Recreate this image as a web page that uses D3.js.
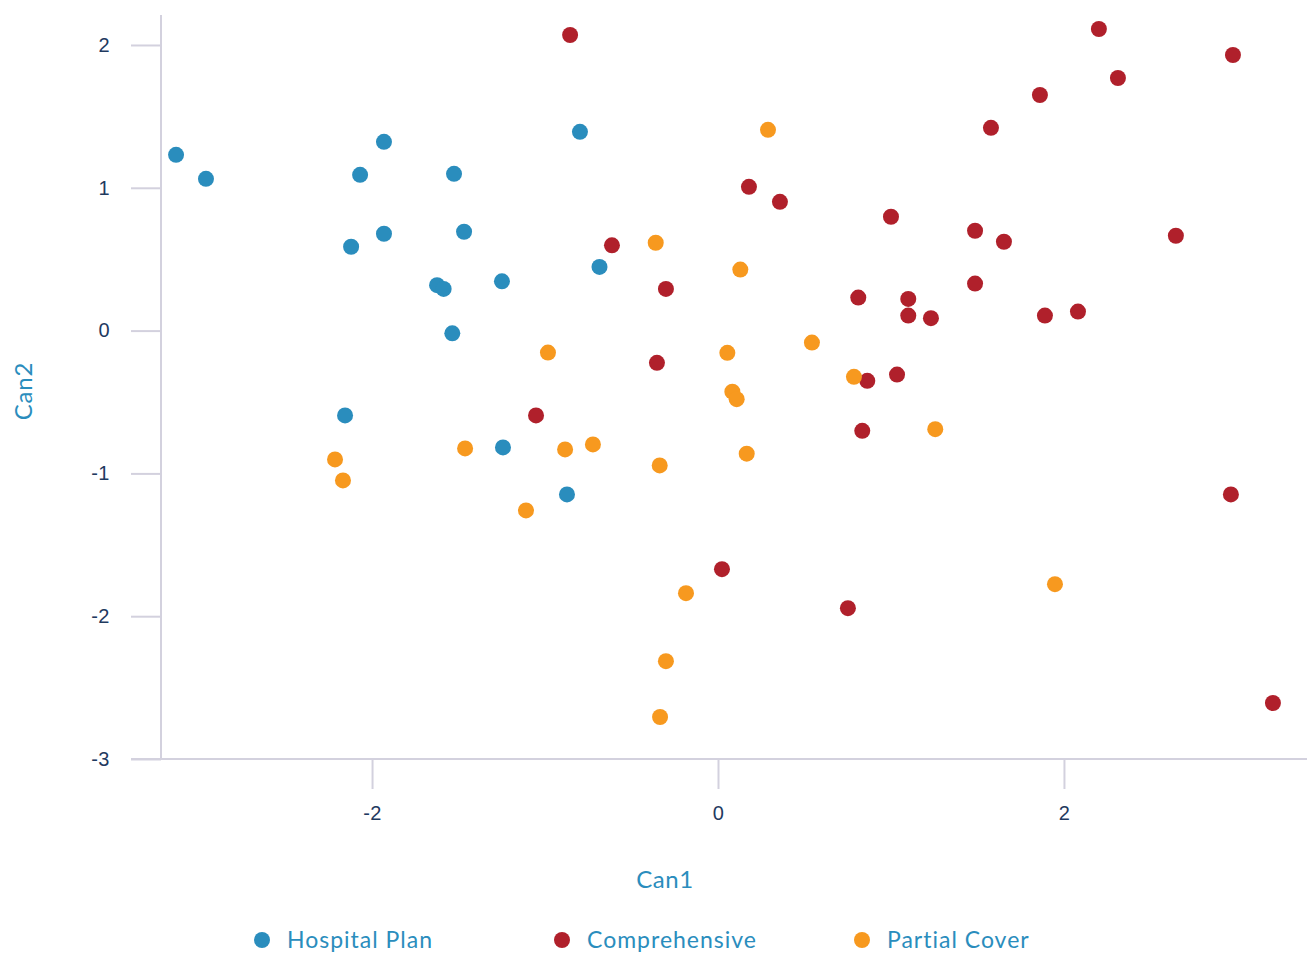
<!DOCTYPE html>
<html>
<head>
<meta charset="utf-8">
<script src="https://cdn.jsdelivr.net/npm/d3@7"></script>
<style>
  html, body { margin: 0; padding: 0; background: #ffffff; }
  svg { display: block; font-family: Lato, "Open Sans", sans-serif; }
</style>
</head>
<body>
<svg id="chart" width="1309" height="953"></svg>
<script>
// Canonical scores per group: [Can1, Can2]
const hospitalPlan = [
  [-3.133, 1.231], [-2.960, 1.063], [-1.931, 1.322], [-2.069, 1.091],
  [-1.526, 1.098], [-2.121, 0.587], [-1.931, 0.678], [-1.468, 0.692],
  [-1.624, 0.318], [-1.586, 0.292], [-1.249, 0.345], [-1.536, -0.019],
  [-0.798, 1.392], [-0.685, 0.446], [-2.156, -0.594], [-1.243, -0.818],
  [-0.873, -1.147]
];
const comprehensive = [
  [-0.855, 2.070], [-0.613, 0.597], [-0.301, 0.292], [-0.353, -0.226],
  [-1.052, -0.594], [0.179, 1.007], [0.358, 0.902], [0.023, -1.671],
  [0.751, -1.944], [0.811, 0.231], [0.863, -0.352], [0.834, -0.702],
  [1.000, 0.797], [1.035, -0.308], [1.100, 0.222], [1.100, 0.105],
  [1.231, 0.087], [1.486, 0.699], [1.486, 0.329], [1.578, 1.420],
  [1.653, 0.622], [1.861, 1.650], [1.890, 0.105], [2.081, 0.133],
  [2.202, 2.112], [2.312, 1.769], [2.647, 0.664], [2.977, 1.930],
  [2.965, -1.147], [3.208, -2.608]
];
const partialCover = [
  [-2.214, -0.902], [-2.168, -1.049], [-1.462, -0.825], [-1.110, -1.259],
  [-0.983, -0.154], [-0.884, -0.832], [-0.723, -0.797], [-0.360, 0.615],
  [-0.337, -0.944], [-0.185, -1.839], [-0.301, -2.315], [-0.335, -2.706],
  [0.054, -0.156], [0.083, -0.428], [0.108, -0.480], [0.129, 0.427],
  [0.166, -0.862], [0.289, 1.406], [0.543, -0.084], [0.786, -0.324],
  [1.256, -0.690], [1.948, -1.776]
];

const seriesNames = ["Hospital Plan", "Comprehensive", "Partial Cover"];
const seriesColors = ["#2a8dbd", "#b0202b", "#f7991f"];
const seriesData = [hospitalPlan, comprehensive, partialCover];

const xTicks = [-2, 0, 2];
const yTicks = [-3, -2, -1, 0, 1, 2];
const xTitle = "Can1";
const yTitle = "Can2";

const axisColor = "#d3d1de";
const tickTextColor = "#1f3a5f";
const titleColor = "#2a8dbd";

const svg = d3.select("#chart");

const x = d3.scaleLinear().domain([-3.22, 3.405]).range([161, 1307]);
const y = d3.scaleLinear().domain([-3, 2.21]).range([759, 15]);

const minusFormat = d => d < 0 ? "-" + Math.abs(d) : String(d);

// Y axis
const yAxis = svg.append("g")
  .attr("transform", `translate(${x.range()[0]},0)`)
  .call(d3.axisLeft(y).tickValues(yTicks).tickSize(30).tickSizeOuter(0).tickPadding(21)
    .tickFormat(minusFormat));
yAxis.select(".domain").remove();
yAxis.selectAll(".tick line").attr("stroke", axisColor).attr("stroke-width", 2);
yAxis.selectAll(".tick text")
  .attr("fill", tickTextColor).style("font-size", "20px").style("letter-spacing", "0.5px");

// X axis
const xAxis = svg.append("g")
  .attr("transform", `translate(0,${y.range()[0]})`)
  .call(d3.axisBottom(x).tickValues(xTicks).tickSize(30).tickSizeOuter(0).tickPadding(17)
    .tickFormat(minusFormat));
xAxis.select(".domain").remove();
xAxis.selectAll(".tick line").attr("stroke", axisColor).attr("stroke-width", 2);
xAxis.selectAll(".tick text")
  .attr("fill", tickTextColor).style("font-size", "20px").style("letter-spacing", "0.5px");

// Axis base lines
svg.append("line")
  .attr("x1", x.range()[0]).attr("x2", x.range()[0])
  .attr("y1", y.range()[1]).attr("y2", y.range()[0])
  .attr("stroke", axisColor).attr("stroke-width", 2);
svg.append("line")
  .attr("x1", x.range()[0] - 30).attr("x2", x.range()[1])
  .attr("y1", y.range()[0]).attr("y2", y.range()[0])
  .attr("stroke", axisColor).attr("stroke-width", 2);

// Axis titles
svg.append("text")
  .attr("x", 665).attr("y", 878)
  .attr("text-anchor", "middle").attr("dominant-baseline", "central")
  .attr("fill", titleColor).style("font-size", "24px").style("letter-spacing", "0.6px")
  .text(xTitle);
svg.append("text")
  .attr("transform", "translate(22,391) rotate(-90)")
  .attr("text-anchor", "middle").attr("dominant-baseline", "central")
  .attr("fill", titleColor).style("font-size", "24px").style("letter-spacing", "0.8px")
  .text(yTitle);

// Points
const points = svg.append("g");
seriesData.forEach((data, i) => {
  points.append("g")
    .selectAll("circle")
    .data(data)
    .join("circle")
    .attr("cx", d => x(d[0]))
    .attr("cy", d => y(d[1]))
    .attr("r", 8)
    .attr("fill", seriesColors[i]);
});

// Legend
const legend = svg.append("g").attr("transform", "translate(262,940)");
seriesNames.forEach((name, i) => {
  const item = legend.append("g").attr("transform", `translate(${i * 300},0)`);
  item.append("circle").attr("r", 8).attr("fill", seriesColors[i]);
  item.append("text")
    .attr("x", 25).attr("y", -1).attr("dominant-baseline", "central")
    .attr("fill", titleColor).style("font-size", "23px").style("letter-spacing", "1px")
    .text(name);
});
</script>
</body>
</html>
